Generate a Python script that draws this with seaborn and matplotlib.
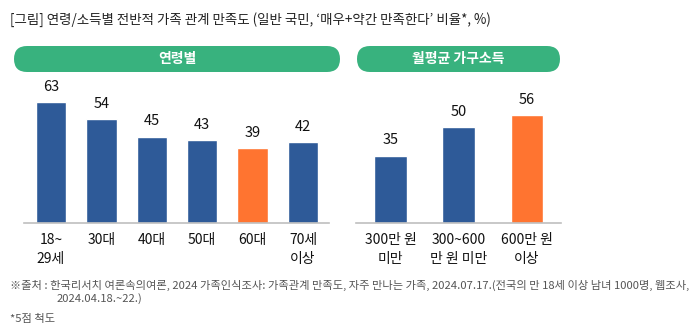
import matplotlib
matplotlib.use("Agg")
import matplotlib.pyplot as plt
from matplotlib.patches import FancyBboxPatch
from matplotlib.transforms import IdentityTransform
import seaborn as sns

sns.set_theme(style="white")
plt.rcParams['font.family'] = ['Noto Sans CJK KR', 'DejaVu Sans']

age_cats = ["18~\n29세", "30대", "40대", "50대", "60대", "70세\n이상"]
age_vals = [63, 54, 45, 43, 39, 42]
inc_cats = ["300만 원\n미만", "300~600\n만 원 미만", "600만 원\n이상"]
inc_vals = [35, 50, 56]

title = "[그림] 연령/소득별 전반적 가족 관계 만족도 (일반 국민, ‘매우+약간 만족한다’ 비율*, %)"
panel_titles = ["연령별", "월평균 가구소득"]
note1 = "※출처 : 한국리서치 여론속의여론, 2024 가족인식조사: 가족관계 만족도, 자주 만나는 가족, 2024.07.17.(전국의 만 18세 이상 남녀 1000명, 웹조사,"
note2 = "2024.04.18.~22.)"
note3 = "*5점 척도"

BLUE = "#2E5A98"
ORANGE = "#FF7430"
GREEN = "#38B27E"

W, H = 699, 332
fig = plt.figure(figsize=(W / 100, H / 100), dpi=100)

def ax_rect(x0, x1, ybase, height):
    return [x0 / W, (H - ybase) / H, (x1 - x0) / W, height / H]

ymax = 70
ax_h = ymax * 1.92

ax1 = fig.add_axes(ax_rect(24, 329, 223, ax_h))
ax2 = fig.add_axes(ax_rect(356, 561, 223, ax_h))

age_colors = [BLUE, BLUE, BLUE, BLUE, ORANGE, BLUE]
inc_colors = [BLUE, BLUE, ORANGE]

sns.barplot(x=age_cats, y=age_vals, hue=age_cats, palette=age_colors, legend=False,
            width=0.6, ax=ax1, saturation=1)
sns.barplot(x=inc_cats, y=inc_vals, hue=inc_cats, palette=inc_colors, legend=False,
            width=0.48, ax=ax2, saturation=1)

for ax, xl in [(ax1, (-0.536, 5.516)), (ax2, (-0.505, 2.498))]:
    ax.set_xlim(*xl)
    ax.set_ylim(0, ymax)
    for s in ["top", "right", "left"]:
        ax.spines[s].set_visible(False)
    ax.spines["bottom"].set_color("#BFBFBF")
    ax.spines["bottom"].set_linewidth(1.2)
    ax.set_yticks([])
    ax.set_ylabel("")
    ax.tick_params(axis="x", length=0, pad=7, labelsize=10, colors="#111111")
    for lbl in ax.get_xticklabels():
        lbl.set_linespacing(1.45)
    for c in ax.containers:
        ax.bar_label(c, padding=6, fontsize=10.5, color="#111111")

# panel header pills (pixel coordinates)
for (x0, x1), t in zip([(14, 340), (357, 560)], panel_titles):
    y0, y1 = 46, 72
    h = y1 - y0
    p = FancyBboxPatch((x0, H - y1), x1 - x0, h,
                       boxstyle=f"round,pad=0,rounding_size={h / 2}",
                       transform=IdentityTransform(), facecolor=GREEN, edgecolor="none")
    fig.patches.append(p)
    fig.text((x0 + x1) / 2 / W, (H - (y0 + y1) / 2) / H, t, ha="center", va="center",
             color="white", fontsize=10, fontweight="bold")

fig.text(10 / W, (H - 20) / H, title, ha="left", va="center", fontsize=9.7, color="#222222")
fig.text(10 / W, (H - 285) / H, note1, ha="left", va="center", fontsize=8.1, color="#555555")
fig.text(57 / W, (H - 299) / H, note2, ha="left", va="center", fontsize=8.1, color="#555555")
fig.text(10 / W, (H - 319) / H, note3, ha="left", va="center", fontsize=8.1, color="#555555")

fig.savefig("out.png", dpi=100, facecolor="white")
